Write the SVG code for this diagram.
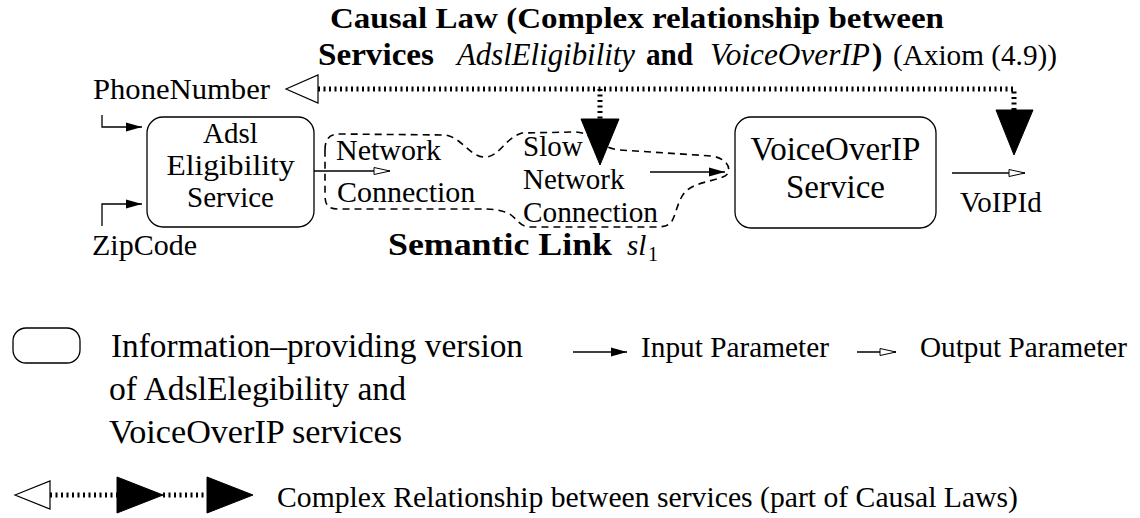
<svg xmlns="http://www.w3.org/2000/svg" width="1140" height="518" viewBox="0 0 1140 518">
<style>
.t{font-family:"Liberation Serif","Times New Roman",serif;fill:#000}
.b{font-weight:bold}
.i{font-style:italic}
.box{fill:#fff;stroke:#000;stroke-width:1.3}
.ln{fill:none;stroke:#000;stroke-width:1.3}
.dot{fill:none;stroke:#000;stroke-width:5;stroke-dasharray:2 3.5}
.dash{fill:none;stroke:#000;stroke-width:1.6;stroke-dasharray:7 5}
.fill{fill:#000;stroke:#000;stroke-width:1}
.open{fill:#fff;stroke:#000;stroke-width:1.2}
</style>
<defs>
<marker id="inArr" markerUnits="userSpaceOnUse" markerWidth="18" markerHeight="11" refX="17" refY="5.5" orient="auto">
<path d="M1,1 L17,5.5 L1,10 Z" fill="#000"/>
</marker>
<marker id="outArr" markerUnits="userSpaceOnUse" markerWidth="18" markerHeight="11" refX="17" refY="5.5" orient="auto">
<path d="M1,2 L17,5.5 L1,9 Z" fill="#fff" stroke="#000" stroke-width="1"/>
</marker>
</defs>

<g id="title">
<text class="t b" x="330" y="28" font-size="30" textLength="614" lengthAdjust="spacingAndGlyphs">Causal Law (Complex relationship between</text>
<text class="t b" x="318" y="65" font-size="31" textLength="116" lengthAdjust="spacingAndGlyphs">Services</text>
<text class="t i" x="457" y="65" font-size="31" textLength="178" lengthAdjust="spacingAndGlyphs">AdslEligibility</text>
<text class="t b" x="646" y="65" font-size="31" textLength="47" lengthAdjust="spacingAndGlyphs">and</text>
<text class="t i" x="710" y="65" font-size="31" textLength="160" lengthAdjust="spacingAndGlyphs">VoiceOverIP</text>
<text class="t b" x="872" y="65" font-size="31">)</text>
<text class="t" x="893" y="65" font-size="29" textLength="164" lengthAdjust="spacingAndGlyphs">(Axiom (4.9))</text>
</g>

<g id="connectors">
<path class="dot" d="M318,89 H1014 V110"/>
<path class="dot" d="M600,89 V119"/>
<path class="ln" d="M102,115 V127 H142" marker-end="url(#inArr)"/>
<path class="ln" d="M102,226 V204 H142" marker-end="url(#inArr)"/>
<path class="ln" d="M314,171 H390" marker-end="url(#outArr)"/>
<path class="ln" d="M650,172 H725" marker-end="url(#inArr)"/>
<path class="ln" d="M952,173 H1025" marker-end="url(#outArr)"/>
<polygon class="open" points="286,89 318,75 318,103"/>
<polygon class="fill" points="581,119 619,119 600,165"/>
<polygon class="fill" points="996,110 1033,110 1014,155"/>
</g>

<g id="phone-number">
<text class="t" x="93" y="99" font-size="30" textLength="177" lengthAdjust="spacingAndGlyphs">PhoneNumber</text>
</g>
<g id="zip-code">
<text class="t" x="92" y="255" font-size="30">ZipCode</text>
</g>

<g id="adsl-eligibility-service">
<rect class="box" x="147" y="117" width="167" height="110" rx="16"/>
<text class="t" x="230.5" y="143" font-size="29" text-anchor="middle">Adsl</text>
<text class="t" x="230.5" y="175" font-size="29" text-anchor="middle" textLength="128" lengthAdjust="spacingAndGlyphs">Eligibility</text>
<text class="t" x="230.5" y="207" font-size="29" text-anchor="middle">Service</text>
</g>

<g id="voip-service">
<rect class="box" x="735" y="117" width="201" height="111" rx="16"/>
<text class="t" x="835.5" y="160" font-size="33" text-anchor="middle">VoiceOverIP</text>
<text class="t" x="835.5" y="198" font-size="33" text-anchor="middle">Service</text>
</g>

<g id="semantic-link">
<path class="dash" d="M325,150 C325,138 330,134 340,134 L445,135 C462,137 470,158 486,157 C500,156 505,138 522,133 L575,132 C592,132 598,148 620,150 L712,156 C730,159 732,172 725,176 C712,182 695,182 685,192 C678,200 676,214 672,221 C668,227 662,227 650,227 L530,227 C518,227 516,215 505,212 C495,209 490,209 480,209 L338,209 C328,209 325,205 325,195 Z"/>
<text class="t" x="336" y="160" font-size="30">Network</text>
<text class="t" x="337" y="202" font-size="30">Connection</text>
<text class="t" x="523" y="156" font-size="29">Slow</text>
<text class="t" x="523" y="189" font-size="29">Network</text>
<text class="t" x="523" y="222" font-size="29" textLength="135" lengthAdjust="spacingAndGlyphs">Connection</text>
<text class="t b" x="388" y="255" font-size="32" textLength="224" lengthAdjust="spacingAndGlyphs">Semantic Link</text>
<text class="t i" x="627" y="255" font-size="29">sl</text>
<text class="t" x="648" y="261" font-size="20">1</text>
</g>

<g id="voip-id">
<text class="t" x="960" y="212" font-size="29">VoIPId</text>
</g>

<g id="legend">
<rect class="box" x="13" y="328" width="67" height="35" rx="13"/>
<text class="t" x="111" y="357" font-size="33" textLength="412" lengthAdjust="spacingAndGlyphs">Information–providing version</text>
<text class="t" x="109" y="400" font-size="33" textLength="297" lengthAdjust="spacingAndGlyphs">of AdslElegibility and</text>
<text class="t" x="109" y="443" font-size="33" textLength="293" lengthAdjust="spacingAndGlyphs">VoiceOverIP services</text>
<path class="ln" d="M573,352 H627" marker-end="url(#inArr)"/>
<text class="t" x="641" y="357" font-size="29" textLength="188" lengthAdjust="spacingAndGlyphs">Input Parameter</text>
<path class="ln" d="M857,352 H896" marker-end="url(#outArr)"/>
<text class="t" x="920" y="357" font-size="29" textLength="207" lengthAdjust="spacingAndGlyphs">Output Parameter</text>
<path class="dot" d="M50,495 H117"/>
<path class="dot" d="M163,495 H207"/>
<polygon class="open" points="15,495 50,481 50,509"/>
<polygon class="fill" points="117,477 117,513 163,495"/>
<polygon class="fill" points="207,477 207,513 253,495"/>
<text class="t" x="277" y="507" font-size="30" textLength="741" lengthAdjust="spacingAndGlyphs">Complex Relationship between services (part of Causal Laws)</text>
</g>
</svg>
